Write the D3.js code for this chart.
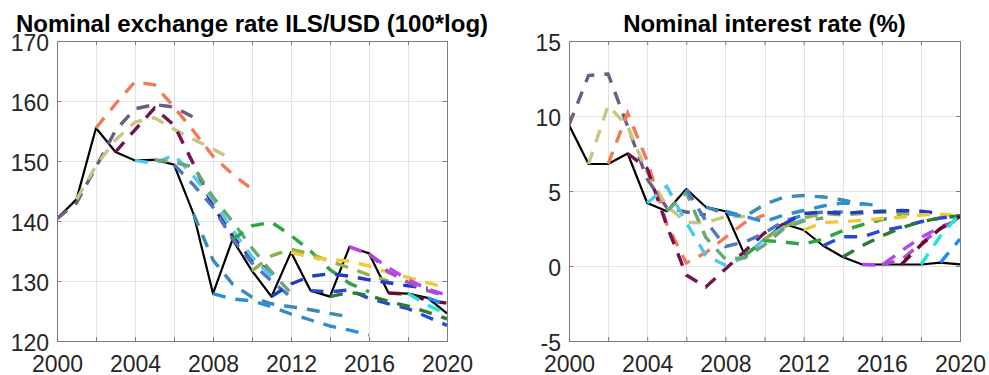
<!DOCTYPE html>
<html><head><meta charset="utf-8">
<script src="https://cdn.jsdelivr.net/npm/d3@7"></script>
<style>
body{margin:0;background:#fff}
svg{display:block}
text{font-family:"Liberation Sans",Arial,Helvetica,sans-serif}
</style>
</head><body>
<svg id="chart" width="989" height="375"></svg>
<script>
// ---------------- data ----------------
const years = [2000,2001,2002,2003,2004,2005,2006,2007,2008,2009,2010,2011,2012,2013,2014,2015,2016,2017,2018,2019,2020];
const xTickValues = [2000,2002,2004,2006,2008,2010,2012,2014,2016,2018,2020];
const xTickLabels = ["2000","","2004","","2008","","2012","","2016","","2020"];

const fxTitle = "Nominal exchange rate ILS/USD (100*log)";
const fxTicks = [120,130,140,150,160,170];
const fxTickLabels = ["120","130","140","150","160","170"];
const fxActual = [140.4,143.6,155.5,151.5,150.1,150.2,149.4,141.2,127.9,136.9,131.7,127.4,134.8,128.4,127.4,135.7,134.6,128.0,127.9,127.2,124.6];

const rateTitle = "Nominal interest rate (%)";
const rateTicks = [-5,0,5,10,15];
const rateTickLabels = ["-5","0","5","10","15"];
const rateActual = [9.4,6.8,6.8,7.5,4.2,3.65,5.13,3.93,3.65,0.71,1.8,2.8,2.4,1.35,0.6,0.1,0.1,0.1,0.1,0.23,0.11];

// forecast vintages (first year of each forecast path) and their colours
const vintages = [2000,2001,2002,2003,2004,2005,2006,2007,2008,2009,2010,2011,2012,2013,2014,2015,2016,2017,2018,2019];
const vintageColors = ["#6b5f80","#c9c683","#f47a57","#74134f","#4cc8f4","#6ba772","#4a79c9","#3c8ab8","#2b8fd8","#2ca544",
                       "#8fb14c","#1f3dc4","#f0c935","#2848dc","#2e7a34","#b744ee","#a84fc4","#6a0a2a","#1fe6d8","#1a8cff"];

const fxForecasts = [
  [140.4,143.0,149.0,155.1,158.7,159.4,159.0,157.3],
  [143.6,149.2,153.5,156.5,157.2,155.3,153.6,152.0,150.2],
  [155.5,159.5,163.2,162.7,159.0,155.0,150.8,147.8,145.3],
  [151.5,155.2,158.8,156.0,149.5,142.5,137.5,133.5,131.5],
  [150.1,149.6,151.0,147.5,143.5,138.5,134.0,130.8],
  [150.2,149.8,149.0,144.0,139.9,135.5,131.5,128.0],
  [149.4,146.0,142.3,137.0,133.0,130.0,127.3],
  [141.2,133.5,129.5,127.3,126.2,125.7,125.2,124.6,124.0],
  [127.9,127.0,126.7,125.7,124.5,123.5,122.5,121.8,121.0],
  [136.9,139.2,139.8,137.6,135.0,131.9,129.6,128.2],
  [131.7,134.2,135.3,134.5,133.3,132.2,131.0,130.0],
  [127.4,129.5,130.8,131.2,130.8,130.2,129.7,129.2,128.8],
  [134.8,133.9,133.6,133.3,132.5,131.4,130.6,129.7,128.9],
  [128.4,128.2,128.5,127.1,126.2,125.4,124.0,122.6],
  [127.4,128.1,127.6,126.6,125.8,124.8,123.7],
  [135.7,134.5,132.2,130.2,128.7,127.6],
  [134.6,131.5,129.8,128.4,127.5],
  [128.0,127.8,126.8,126.3],
  [127.9,126.0,124.5],
  [127.2,126.0]
];

const rateForecasts = [
  [9.4,12.7,12.8,9.3,5.8,3.9,3.6,3.4],
  [6.8,10.7,9.3,6.2,4.0,2.9,2.9,3.3,3.3],
  [6.8,10.2,7.0,2.8,0.2,0.9,1.9,2.9,3.4],
  [7.5,6.5,2.7,-0.6,-1.4,-0.2,1.0,2.2,2.8],
  [4.2,5.3,2.9,0.7,0.05,0.6,1.8,2.6,3.1],
  [3.65,4.9,1.9,0.45,0.55,1.4,2.5,3.0,3.2],
  [5.13,3.0,1.3,1.6,2.2,3.0,3.4,3.6,3.6],
  [3.93,3.5,3.3,4.1,4.6,4.7,4.6,4.4,4.1],
  [3.65,3.3,2.95,3.4,3.7,4.0,4.2,4.15,4.0],
  [0.71,1.7,1.6,1.45,1.8,2.35,2.75,3.1,3.3],
  [1.8,2.6,3.2,3.5,3.4,3.5,3.6,3.5,3.4],
  [2.8,3.5,3.6,3.5,3.6,3.65,3.7,3.65,3.5],
  [2.4,2.9,2.95,3.05,3.15,3.25,3.4,3.45,3.35],
  [1.35,1.95,1.95,2.35,2.6,2.95,3.2,3.35],
  [0.6,1.35,2.0,2.55,2.95,3.2,3.35],
  [0.1,0.05,1.0,1.9,2.6,3.1],
  [0.1,0.4,1.5,2.5,3.1],
  [0.1,1.4,2.5,3.3],
  [0.1,2.0,3.5],
  [0.23,1.8]
];

// ---------------- drawing ----------------
const svg = d3.select("#chart");
const TOP = 41, BOTTOM = 341;
const panels = [
  {title: fxTitle, left: 57, right: 447, domain: [120,170], ticks: fxTicks, labels: fxTickLabels, actual: fxActual, forecasts: fxForecasts},
  {title: rateTitle, left: 569, right: 960, domain: [-5,15], ticks: rateTicks, labels: rateTickLabels, actual: rateActual, forecasts: rateForecasts}
];
const axisColor = "#7d7d7d", gridColor = "#e3e3e3", textColor = "#262626";

panels.forEach((p, pi) => {
  const x = d3.scaleLinear().domain([2000,2020]).range([p.left, p.right]);
  const y = d3.scaleLinear().domain(p.domain).range([BOTTOM, TOP]);
  const g = svg.append("g");

  // grid
  g.append("g").selectAll("line").data(xTickValues).join("line")
    .attr("x1", d => Math.round(x(d)) + 0.5).attr("x2", d => Math.round(x(d)) + 0.5)
    .attr("y1", TOP).attr("y2", BOTTOM)
    .attr("stroke", gridColor).attr("stroke-width", 1);
  g.append("g").selectAll("line").data(p.ticks).join("line")
    .attr("y1", d => Math.round(y(d)) + 0.5).attr("y2", d => Math.round(y(d)) + 0.5)
    .attr("x1", p.left).attr("x2", p.right)
    .attr("stroke", gridColor).attr("stroke-width", 1);

  // clip
  const clipId = "clip" + pi;
  svg.append("clipPath").attr("id", clipId).append("rect")
    .attr("x", p.left).attr("y", TOP - 2).attr("width", p.right - p.left + 2).attr("height", BOTTOM - TOP + 4);

  const line = d3.line().x(d => x(d[0])).y(d => y(d[1]));
  const plot = g.append("g").attr("clip-path", `url(#${clipId})`);

  // actual
  plot.append("path")
    .attr("d", line(years.map((yr, i) => [yr, p.actual[i]])))
    .attr("fill", "none").attr("stroke", "#000").attr("stroke-width", 2.2)
    .attr("stroke-linejoin", "round");

  // forecasts
  p.forecasts.forEach((f, k) => {
    const pts = f.map((v, j) => [vintages[k] + j, v]);
    plot.append("path")
      .attr("d", line(pts))
      .attr("fill", "none").attr("stroke", vintageColors[k])
      .attr("stroke-width", 3.4)
      .attr("stroke-dasharray", "13,10");
  });

  // axes
  const styleAxis = sel => {
    sel.select(".domain").remove();
    sel.selectAll(".tick line").attr("stroke", axisColor);
    sel.selectAll(".tick text").attr("fill", textColor).attr("font-size", 23)
      .attr("font-family", '"Liberation Sans", Arial, sans-serif');
  };
  g.append("g").attr("transform", `translate(0,${BOTTOM})`)
    .call(d3.axisBottom(x).tickValues(xTickValues).tickFormat((d, i) => xTickLabels[i]).tickSizeInner(-4).tickSizeOuter(0).tickPadding(15))
    .call(styleAxis);
  g.append("g").attr("transform", `translate(0,${TOP})`)
    .call(d3.axisTop(x).tickValues(xTickValues).tickFormat("").tickSizeInner(-4).tickSizeOuter(0))
    .call(styleAxis);
  const la = g.append("g").attr("transform", `translate(${p.left},0)`)
    .call(d3.axisLeft(y).tickValues(p.ticks).tickFormat((d, i) => p.labels[i]).tickSizeInner(-4).tickSizeOuter(0).tickPadding(8))
    .call(styleAxis);
  la.selectAll(".tick text").attr("dy", "0.40em");
  g.append("g").attr("transform", `translate(${p.right},0)`)
    .call(d3.axisRight(y).tickValues(p.ticks).tickFormat("").tickSizeInner(-4).tickSizeOuter(0))
    .call(styleAxis);

  // box
  g.append("rect").attr("x", p.left + 0.5).attr("y", TOP + 0.5)
    .attr("width", p.right - p.left).attr("height", BOTTOM - TOP)
    .attr("fill", "none").attr("stroke", axisColor).attr("stroke-width", 1);

  // title
  g.append("text").attr("x", (p.left + p.right) / 2).attr("y", 32)
    .attr("text-anchor", "middle").attr("font-weight", "bold").attr("font-size", 24)
    .attr("fill", "#000").text(p.title);
});
</script>
</body></html>
